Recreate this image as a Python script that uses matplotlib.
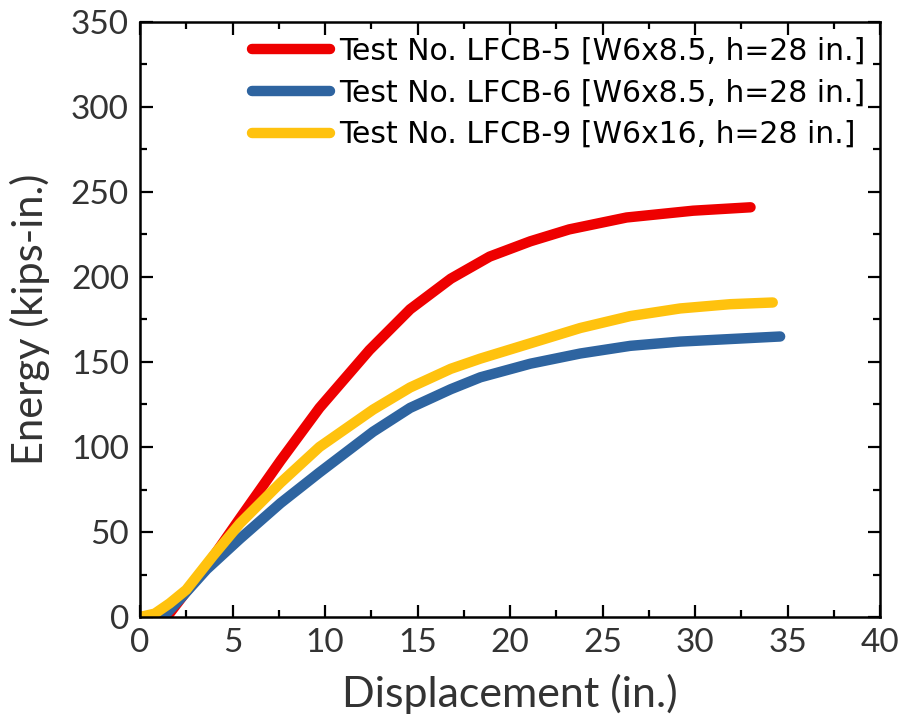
import matplotlib.pyplot as plt
from matplotlib.ticker import MultipleLocator

# ------------------------------------------------------
# Data
# ------------------------------------------------------

disp5 = [0.0, 1.45, 2.5, 3.8, 5.4, 7.6, 9.7, 12.4, 14.6, 16.8, 18.9, 21.1, 23.2, 26.3, 29.9, 33.0]
energy5 = [0.0, 0.0, 15, 33, 58, 92, 123, 157, 181, 199, 212, 221, 228, 235, 239, 241]

disp6 = [0.0, 1.25, 2.2, 3.6, 5.4, 7.6, 9.7, 12.6, 14.6, 16.8, 18.4, 21.1, 23.8, 26.5, 29.2, 31.9, 34.6]
energy6 = [0.0, 0.0, 11, 28, 46, 67, 85, 109, 123, 134, 141, 149, 155, 159.5, 162, 163.5, 165]

disp9 = [0.0, 0.8, 1.6, 2.5, 3.95, 5.4, 7.6, 9.7, 12.6, 14.6, 16.8, 18.4, 21.1, 23.8, 26.5, 29.2, 31.9, 34.2]
energy9 = [0.0, 2, 8, 16, 36, 55, 79, 100, 122, 135, 146, 152, 161, 170, 177, 181.5, 184, 185]

labels = [
    "Test No. LFCB-5 [W6x8.5, h=28 in.]",
    "Test No. LFCB-6 [W6x8.5, h=28 in.]",
    "Test No. LFCB-9 [W6x16, h=28 in.]",
]
colors = ["#ee0000", "#2e64a0", "#ffc20e"]

# ------------------------------------------------------
# Plot
# ------------------------------------------------------

fig = plt.figure(figsize=(8.98, 7.23), dpi=100)
ax = fig.add_axes([0.1559, 0.1466, 0.8241, 0.823])

for d, e, c, lab in zip([disp5, disp6, disp9], [energy5, energy6, energy9], colors, labels):
    ax.plot(d, e, color=c, lw=7.5, solid_capstyle="round", solid_joinstyle="round", label=lab)

ax.set_xlim(0, 40)
ax.set_ylim(0, 350)
ax.xaxis.set_major_locator(MultipleLocator(5))
ax.xaxis.set_minor_locator(MultipleLocator(2.5))
ax.yaxis.set_major_locator(MultipleLocator(50))
ax.yaxis.set_minor_locator(MultipleLocator(25))

txtcol = "#333333"
ax.tick_params(which="both", direction="in", top=True, right=True, width=1.6)
ax.tick_params(which="major", length=9, labelsize=24, pad=8, labelcolor=txtcol)
ax.tick_params(which="minor", length=5)
for s in ax.spines.values():
    s.set_linewidth(1.8)

for t in ax.get_xticklabels() + ax.get_yticklabels():
    t.set_family("Lato")

ax.set_xlabel("Displacement (in.)", fontsize=31, family="Lato", color=txtcol, labelpad=11)
ax.set_ylabel("Energy (kips-in.)", fontsize=30, family="Lato", color=txtcol, labelpad=15)

leg = ax.legend(loc="upper right", frameon=False, handlelength=2.6, handletextpad=0.3,
                labelspacing=0.42, borderaxespad=0.1,
                prop={"family": "DejaVu Sans", "size": 21.5})

fig.savefig("out.png", dpi=100)
